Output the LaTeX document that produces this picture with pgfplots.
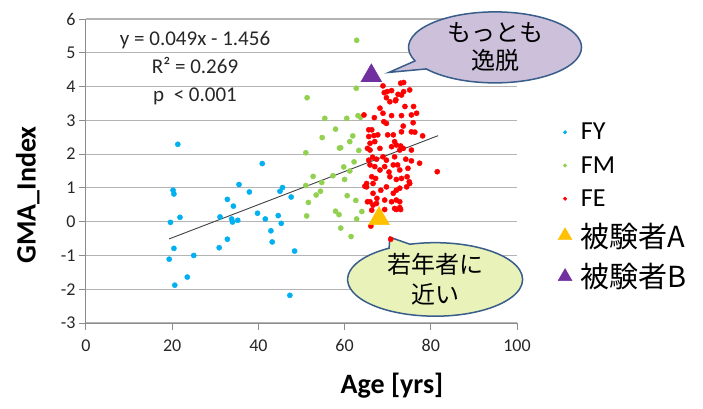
\documentclass[border=0pt]{standalone}
\usepackage{pgfplots}
\pgfplotsset{compat=1.18}
\usepackage{fontspec}
\setmainfont{Carlito}
\newfontfamily\cjk{Noto Sans CJK JP}
\usetikzlibrary{shapes.callouts}
\definecolor{fyc}{RGB}{0,176,240}
\definecolor{fmc}{RGB}{146,208,80}
\definecolor{fec}{RGB}{255,0,0}
\definecolor{sac}{RGB}{255,192,0}
\definecolor{sbc}{RGB}{112,48,160}
\definecolor{gridc}{RGB}{180,180,180}
\definecolor{axc}{RGB}{140,140,140}
\definecolor{bordc}{RGB}{56,93,138}
\definecolor{lavc}{RGB}{204,192,218}
\definecolor{grnc}{RGB}{232,242,185}
\begin{document}
\begin{tikzpicture}
\useasboundingbox (-86pt,-85pt) rectangle (617pt,323pt);
\begin{axis}[
  width=431pt, height=304pt, scale only axis,
  xmin=0, xmax=100, ymin=-3, ymax=6,
  clip=false,
  axis x line*=bottom, axis y line*=left,
  axis line style={axc, line width=1pt},
  xtick={0,20,40,60,80,100},
  xticklabels={0,20,40,60,80,100},
  ytick={-3,-2,-1,0,1,2,3,4,5,6},
  yticklabels={-3,-2,-1,0,1,2,3,4,5,6},
  tick align=outside, major tick length=7pt,
  tick style={axc, line width=1pt},
  ymajorgrids, grid style={gridc, line width=1.2pt},
  ticklabel style={font=\fontsize{18}{20}\selectfont, text=black!85},
  xticklabel style={yshift=-6pt},
  xlabel={Age [yrs]},
  xlabel style={font=\bfseries\fontsize{28}{30}\selectfont, at={(axis description cs:0.71,-0.206)}, anchor=center},
  ylabel={GMA\_Index},
  ylabel style={font=\bfseries\fontsize{28}{30}\selectfont, at={(axis description cs:-0.135,0.421)}, anchor=center},
  legend style={at={(axis description cs:1.088,0.671)}, anchor=north west, draw=none, fill=none,
    font=\fontsize{26}{30}\selectfont, row sep=11pt, column sep=7pt},
  legend cell align=left,
]
\addlegendimage{only marks, mark=*, mark size=1.8pt, color=fyc}
\addlegendentry{FY}
\addlegendimage{only marks, mark=*, mark size=1.8pt, color=fmc}
\addlegendentry{FM}
\addlegendimage{only marks, mark=*, mark size=1.8pt, color=fec}
\addlegendentry{FE}
\addlegendimage{only marks, mark=triangle*, mark size=8pt, color=sac}
\addlegendentry{{\cjk\fontsize{29}{32}\selectfont 被験者A}}
\addlegendimage{only marks, mark=triangle*, mark size=8pt, color=sbc}
\addlegendentry{{\cjk\fontsize{29}{32}\selectfont 被験者B}}

\addplot[forget plot, only marks, mark=*, mark size=2.6pt, color=fyc] coordinates {
(21.3,2.29)(20.2,0.93)(20.4,0.82)(21.8,0.13)(19.6,-0.02)(20.4,-0.79)(19.3,-1.11)(25.0,-1.00)
(23.5,-1.64)(20.6,-1.88)(35.5,1.10)(37.9,0.88)(32.8,0.66)(34.2,0.46)(31.1,0.14)(33.8,0.08)
(34.0,-0.01)(35.2,0.04)(32.8,-0.52)(30.9,-0.77)(40.9,1.72)(45.6,1.01)(45.0,0.90)(47.6,0.73)
(39.8,0.25)(41.6,0.08)(44.6,0.18)(45.3,-0.05)(42.9,-0.27)(43.2,-0.60)(48.4,-0.87)(47.3,-2.18)
};
\addplot[forget plot, only marks, mark=*, mark size=2.6pt, color=fmc] coordinates {
(62.8,5.37)(51.3,3.67)(62.7,3.95)(55.4,3.06)(60.5,3.06)(63.1,3.14)(63.7,3.09)(57.9,2.74)
(54.8,2.49)(61.9,2.54)(61.2,2.37)(59.1,2.19)(63.3,2.11)(51.0,2.04)(62.2,1.77)(59.8,1.62)
(61.2,1.50)(57.3,1.36)(52.7,1.34)(60.0,1.25)(54.7,1.16)(51.0,1.07)(54.4,0.90)(53.4,0.79)
(60.6,0.77)(62.6,0.63)(51.6,0.57)(57.9,0.31)(58.7,0.21)(64.0,0.30)(51.2,0.17)(62.8,0.08)
(59.1,-0.19)(61.5,-0.44)(58.8,2.18)
};
\addplot[forget plot, only marks, mark=*, mark size=2.6pt, color=fec] coordinates {
(69.2,3.82)(70.9,3.88)(69.7,3.67)(70.5,3.55)(71.8,3.58)(72.4,3.77)(73.0,4.10)(68.2,3.36)
(68.9,3.21)(66.9,3.08)(70.9,3.14)(73.2,3.14)(69.7,2.91)(69.1,2.96)(66.3,2.72)(66.8,2.55)
(65.9,2.32)(67.0,2.37)(71.3,2.57)(71.6,2.37)(72.0,2.27)(68.2,2.17)(70.9,2.22)(72.8,2.12)
(65.9,2.12)(66.5,1.91)(67.4,1.85)(68.9,1.92)(69.7,1.82)(71.6,1.92)(65.9,1.68)(67.0,1.63)
(68.2,1.53)(69.3,1.63)(71.3,1.68)(72.8,1.53)(66.3,1.33)(67.2,1.28)(70.5,1.33)(72.0,1.25)
(65.1,1.03)(66.6,1.13)(69.7,1.03)(72.0,0.93)(72.8,0.99)(66.6,0.84)(71.3,0.84)(65.9,0.59)
(67.4,0.54)(69.3,0.64)(70.9,0.59)(72.0,0.64)(71.6,0.39)(72.8,0.42)(66.6,0.49)(66.3,0.34)
(73.7,4.12)(75.1,3.90)(73.7,3.85)(73.2,3.75)(74.0,3.41)(76.0,3.41)(76.7,3.21)(75.5,3.16)
(75.9,2.93)(73.6,2.83)(73.2,2.66)(75.5,2.66)(76.3,2.65)(78.1,2.54)(73.0,2.24)(73.6,2.17)
(75.5,2.12)(74.2,1.85)(75.5,1.80)(77.4,1.73)(74.7,1.58)(81.5,1.48)(73.2,1.28)(74.5,1.33)
(75.0,1.18)(74.4,1.03)(75.1,1.13)(72.8,0.59)(73.0,0.36)(66.1,-0.13)(70.7,-0.52)(65.1,1.13)
(67.5,0.69)(69.3,0.36)(72.0,0.36)(68.9,4.02)(69.9,3.85)(71.9,3.61)(65.6,1.82)(67.7,2.57)
(70.0,2.57)(68.4,0.93)(70.3,1.47)(72.3,1.68)(64.5,3.16)(65.6,2.72)(65.6,2.52)(65.3,2.17)
(64.7,1.05)(65.3,0.59)
};
\addplot[forget plot, color=black!75, line width=0.9pt] coordinates {(19.3,-0.510) (81.7,2.547)};
\addplot[forget plot, only marks, mark=triangle*, mark size=12pt, color=sac] coordinates {(68.0,0.09)};
\addplot[forget plot, only marks, mark=triangle*, mark size=12pt, color=sbc] coordinates {(66.2,4.32)};

\node[align=center, font=\fontsize{21}{28}\selectfont, text=black!85] at (axis cs:25.3,4.55)
  {y = 0.049x - 1.456\\R² = 0.269\\p \ < 0.001};

\node[ellipse callout, draw=bordc, line width=1.5pt, fill=lavc, minimum width=173pt, minimum height=71pt,
  align=center, font=\cjk\fontsize{24}{28}\selectfont, inner sep=0pt,
  callout absolute pointer={(axis cs:70.3,4.42)}] at (axis cs:94.9,5.16) {もっとも\\逸脱};
\node[ellipse callout, draw=bordc, line width=1.5pt, fill=grnc, minimum width=175pt, minimum height=72pt,
  align=center, font=\cjk\fontsize{24}{30}\selectfont, inner sep=0pt,
  callout absolute pointer={(axis cs:70.5,-0.46)}] at (axis cs:81.0,-1.71) {若年者に\\近い};
\end{axis}
\end{tikzpicture}
\end{document}
